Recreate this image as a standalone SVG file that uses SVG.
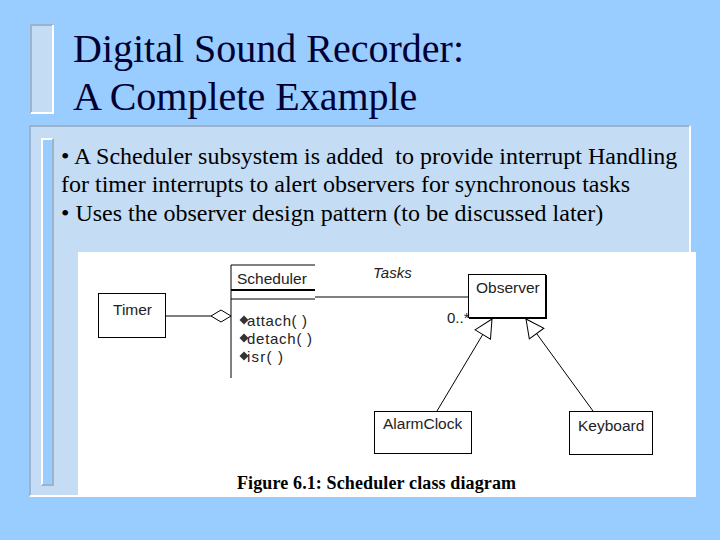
<svg xmlns="http://www.w3.org/2000/svg" width="720" height="540" viewBox="0 0 720 540">
<defs>
<style>
.title{font-family:"Liberation Serif","Times New Roman",serif;font-size:40px;fill:#000033}
.body{font-family:"Liberation Serif","Times New Roman",serif;font-size:24px;fill:#000;white-space:pre}
.uml{font-family:"Liberation Sans",Arial,sans-serif;font-size:15.5px;fill:#222}
.ops{font-family:"Liberation Sans",Arial,sans-serif;font-size:15px;fill:#222}
.cap{font-family:"Liberation Serif","Times New Roman",serif;font-size:18px;font-weight:bold;fill:#000}
.box{fill:#fff;stroke:#000;stroke-width:1}
.ln{stroke:#000;stroke-width:1;fill:none}
.grey{stroke:#9FB3C8;stroke-width:2;fill:none}
.white{stroke:#fff;stroke-width:2;fill:none}
</style>
<marker id="tri" viewBox="0 0 20 20" refX="19" refY="10" markerWidth="20" markerHeight="20" markerUnits="userSpaceOnUse" orient="auto">
<path d="M1,1 L19,10 L1,19 Z" fill="#fff" stroke="#000" stroke-width="1"/>
</marker>
<path id="op" d="M0,-4.5 L4.5,0 L0,4.5 L-4.5,0 Z" fill="#333"/>
</defs>
<rect x="0" y="0" width="720" height="540" fill="#99CCFF"/>
<g id="title">
<rect x="30" y="24" width="23" height="90" fill="#C4DCF4"/>
<path class="grey" d="M31,113 V25 H53"/>
<path class="white" d="M53,25 V113 H31"/>
<text class="title" x="73" y="62">Digital Sound Recorder:</text>
<text class="title" x="73" y="110">A Complete Example</text>
</g>
<g id="panel">
<rect x="29" y="125" width="662" height="372" fill="#C4DCF4"/>
<path class="grey" d="M30,496 V126 H690"/>
<path class="white" d="M690,126 V496 H30"/>
<rect x="41" y="138" width="13" height="348" fill="#99CCFF"/>
<path class="white" d="M42,485 V139 H53"/>
<path class="grey" d="M53,139 V485 H42"/>
<text class="body" x="61" y="164">• A Scheduler subsystem is added  to provide interrupt Handling</text>
<text class="body" x="61" y="192">for timer interrupts to alert observers for synchronous tasks</text>
<text class="body" x="61" y="221">• Uses the observer design pattern (to be discussed later)</text>
</g>
<rect x="78" y="252" width="618" height="245" fill="#fff"/>
<g id="timer">
<rect class="box" x="98.5" y="293.5" width="67" height="44"/>
<text class="uml" x="113" y="315">Timer</text>
</g>
<g id="scheduler">
<line class="ln" x1="231" y1="265" x2="315" y2="265"/>
<line x1="231" y1="290" x2="315" y2="290" stroke="#000" stroke-width="2"/>
<line class="ln" x1="231" y1="299" x2="315" y2="299"/>
<line class="ln" x1="231" y1="265" x2="231" y2="378"/>
<text class="uml" x="237" y="284">Scheduler</text>
<use href="#op" x="244" y="320"/>
<use href="#op" x="244" y="338"/>
<use href="#op" x="244" y="356"/>
<text class="ops" x="247" y="326" textLength="60">attach( )</text>
<text class="ops" x="247" y="344" textLength="65">detach( )</text>
<text class="ops" x="247" y="362" textLength="36">isr( )</text>
</g>
<g id="observer">
<rect class="box" x="468.5" y="274.5" width="77" height="43"/>
<path d="M546,275 V318 H469" stroke="#000" stroke-width="2" fill="none"/>
<text class="uml" x="476" y="293">Observer</text>
</g>
<g id="alarmclock">
<rect class="box" x="374.5" y="411.5" width="97" height="42"/>
<text class="uml" x="383" y="429">AlarmClock</text>
</g>
<g id="keyboard">
<rect class="box" x="569.5" y="411.5" width="83" height="43"/>
<text class="uml" x="578" y="431">Keyboard</text>
</g>
<g id="connectors">
<line class="ln" x1="166" y1="316" x2="211" y2="316"/>
<path d="M211,316 L221,310 L231,316 L221,322 Z" fill="#fff" stroke="#000" stroke-width="1"/>
<line class="ln" x1="315" y1="297" x2="468" y2="297"/>
<line class="ln" x1="437" y1="411" x2="492" y2="319" marker-end="url(#tri)"/>
<line class="ln" x1="593" y1="411" x2="526" y2="319" marker-end="url(#tri)"/>
<text class="ops" x="373" y="278" font-style="italic">Tasks</text>
<text class="ops" x="447" y="323">0..*</text>
</g>
<text class="cap" x="237" y="489" textLength="279">Figure 6.1: Scheduler class diagram</text>
</svg>
